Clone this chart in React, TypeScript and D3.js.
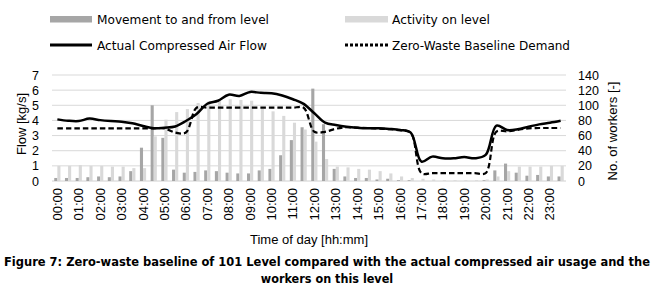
import React from "react";
import * as d3 from "d3";

const categories = [
  "00:00","00:30","01:00","01:30","02:00","02:30","03:00","03:30",
  "04:00","04:30","05:00","05:30","06:00","06:30","07:00","07:30",
  "08:00","08:30","09:00","09:30","10:00","10:30","11:00","11:30",
  "12:00","12:30","13:00","13:30","14:00","14:30","15:00","15:30",
  "16:00","16:30","17:00","17:30","18:00","18:30","19:00","19:30",
  "20:00","20:30","21:00","21:30","22:00","22:30","23:00","23:30",
];
const hourLabels = [
  "00:00","01:00","02:00","03:00","04:00","05:00","06:00","07:00",
  "08:00","09:00","10:00","11:00","12:00","13:00","14:00","15:00",
  "16:00","17:00","18:00","19:00","20:00","21:00","22:00","23:00",
];
// workers (right axis)
const movement = [
  4,4,4,5,6,5,6,13,44,100,57,15,11,12,14,13,11,10,10,14,16,34,54,71,
  122,75,16,6,4,4,2,3,1,1,0,0,0,0,0,0,1,14,23,11,7,8,6,6,
];
const activity = [
  20,20,21,20,20,19,19,17,17,59,81,91,95,103,105,106,108,107,106,95,92,86,77,68,
  52,29,19,18,16,15,13,10,6,4,3,2,1,1,1,1,2,6,13,19,19,19,20,20,
];
// flow kg/s (left axis)
const actualFlow = [
  4.07,3.98,3.96,4.12,4.02,3.96,3.92,3.81,3.63,3.48,3.52,3.6,3.96,4.42,5.1,5.3,
  5.7,5.62,5.88,5.82,5.8,5.65,5.4,5.09,4.47,3.85,3.7,3.59,3.52,3.48,3.48,3.44,
  3.37,3.19,1.28,1.61,1.5,1.5,1.58,1.5,1.72,3.66,3.37,3.42,3.59,3.74,3.85,3.98,
];
const baseline = [
  3.48,3.48,3.48,3.48,3.48,3.48,3.48,3.48,3.48,3.48,3.48,3.2,3.2,4.84,4.84,4.84,
  4.84,4.84,4.84,4.84,4.84,4.84,4.84,4.84,3.25,3.25,3.45,3.55,3.52,3.5,3.46,3.42,
  3.35,3.19,0.52,0.52,0.52,0.52,0.52,0.52,0.52,3.26,3.28,3.38,3.48,3.5,3.5,3.5,
];
const leftTicks = [0, 1, 2, 3, 4, 5, 6, 7];
const rightTicks = [0, 20, 40, 60, 80, 100, 120, 140];

const W = 654, H = 299;
const L = 52, R = 566, T = 75, B = 181;
const axisFont = "'Liberation Sans', Arial, sans-serif";
const legFont = "'DejaVu Sans Condensed', 'DejaVu Sans', sans-serif";
const DARK = "#a6a6a6", LIGHT = "#d9d9d9";

export default function App() {
  const x = d3.scaleBand<string>().domain(categories).range([L, R]).padding(0);
  const bw = x.bandwidth();
  const cx = (c: string) => (x(c) as number) + bw / 2;
  const yL = d3.scaleLinear().domain([0, 7]).range([B, T]);
  const yR = d3.scaleLinear().domain([0, 140]).range([B, T]);
  const barW = 3.1;

  const line = d3
    .line<number>()
    .x((_, i) => cx(categories[i]))
    .y((d) => yL(d))
    .curve(d3.curveCatmullRom.alpha(0.5));

  return (
    <svg width={W} height={H} style={{ position: "absolute", left: 0, top: 0, background: "#fff" }}>
      {/* legend */}
      <g fontFamily={legFont} fontSize={12.5} fill="#000">
        <rect x={50} y={16} width={42} height={6.5} fill={DARK} />
        <text x={97} y={24} textLength={172} lengthAdjust="spacingAndGlyphs">Movement to and from level</text>
        <rect x={345} y={16} width={43} height={6.5} fill={LIGHT} />
        <text x={392} y={24} textLength={98} lengthAdjust="spacingAndGlyphs">Activity on level</text>
        <line x1={50} x2={92} y1={45} y2={45} stroke="#000" strokeWidth={3} />
        <text x={97} y={50} textLength={170} lengthAdjust="spacingAndGlyphs">Actual Compressed Air Flow</text>
        <line x1={345} x2={388} y1={45} y2={45} stroke="#000" strokeWidth={3} strokeDasharray="3,2" />
        <text x={392} y={50} textLength={178} lengthAdjust="spacingAndGlyphs">Zero-Waste Baseline Demand</text>
      </g>

      {/* gridlines */}
      {leftTicks.map((t) => (
        <line key={t} x1={L} x2={R} y1={yL(t)} y2={yL(t)} stroke={t === 0 ? "#d0d0d0" : "#d9d9d9"} strokeWidth={1} />
      ))}

      {/* bars */}
      {categories.map((c, i) => (
        <g key={c}>
          <rect x={cx(c) - barW} y={yR(movement[i])} width={barW} height={B - yR(movement[i])} fill={DARK} />
          <rect x={cx(c)} y={yR(activity[i])} width={barW} height={B - yR(activity[i])} fill={LIGHT} />
        </g>
      ))}

      {/* lines */}
      <path d={line(baseline) || ""} fill="none" stroke="#000" strokeWidth={2.2} strokeDasharray="5.5,3" />
      <path d={line(actualFlow) || ""} fill="none" stroke="#000" strokeWidth={2.5} />

      {/* axes tick labels */}
      <g fontFamily={axisFont} fontSize={12.5} fill="#000">
        {leftTicks.map((t) => (
          <text key={t} x={39} y={yL(t) + 4.5} textAnchor="end">{t}</text>
        ))}
        {rightTicks.map((t) => (
          <text key={t} x={578} y={yR(t) + 4.5} textAnchor="start">{t}</text>
        ))}
      </g>
      <text
        fontFamily={axisFont}
        fontSize={13}
        textAnchor="middle"
        transform={`translate(26,124) rotate(-90)`}
      >
        Flow [kg/s]
      </text>
      <text
        fontFamily={axisFont}
        fontSize={13}
        textAnchor="middle"
        transform={`translate(617,131) rotate(-90)`}
      >
        No. of workers [-]
      </text>

      {/* x axis labels */}
      <g fontFamily={axisFont} fontSize={13} fill="#000">
        {hourLabels.map((h) => (
          <text key={h} textAnchor="end" transform={`translate(${cx(h) + 4.5},188) rotate(-90)`}>
            {h}
          </text>
        ))}
      </g>
      <text x={309} y={244} fontFamily={axisFont} fontSize={13} textAnchor="middle">
        Time of day [hh:mm]
      </text>

      {/* caption */}
      <g fontFamily={legFont} fontSize={12.5} fontWeight="bold" fill="#000">
        <text x={4} y={266} textLength={646} lengthAdjust="spacingAndGlyphs">
          Figure 7: Zero-waste baseline of 101 Level compared with the actual compressed air usage and the
        </text>
        <text x={327} y={283} textAnchor="middle">workers on this level</text>
      </g>
    </svg>
  );
}
